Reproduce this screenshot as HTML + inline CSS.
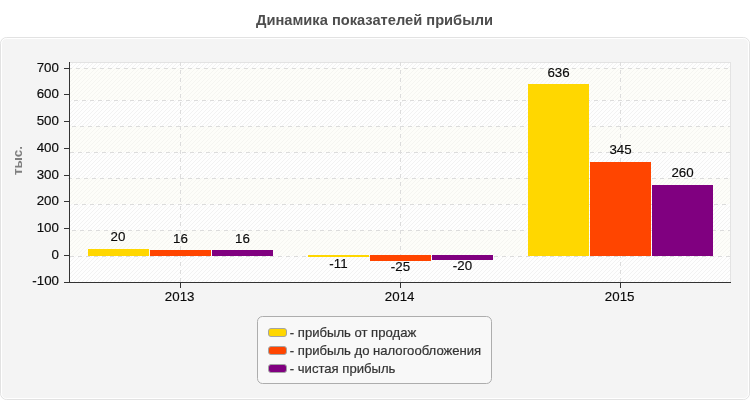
<!DOCTYPE html>
<html><head><meta charset="utf-8">
<style>
html,body{margin:0;padding:0;background:#fff;}
body{width:750px;height:400px;overflow:hidden;font-family:"Liberation Sans",sans-serif;}
svg{display:block;will-change:transform;}
text{font-family:"Liberation Sans",sans-serif;}
</style></head><body>
<svg width="750" height="400" viewBox="0 0 750 400">
<defs>
<pattern id="hw" width="4" height="4" patternUnits="userSpaceOnUse" x="0" y="0">
<rect width="4" height="4" fill="#fefefe"/>
<path d="M3,0h1v1h-1zM2,1h1v1h-1zM1,2h1v1h-1zM0,3h1v1h-1z" fill="#f2f2f2" shape-rendering="crispEdges"/>
</pattern>
<pattern id="hc" width="4" height="4" patternUnits="userSpaceOnUse" x="0" y="0">
<rect width="4" height="4" fill="#fdfdf9"/>
<path d="M3,0h1v1h-1zM2,1h1v1h-1zM1,2h1v1h-1zM0,3h1v1h-1z" fill="#f5f5f1" shape-rendering="crispEdges"/>
</pattern>
</defs>
<text x="374.5" y="25.3" font-size="14.67" font-weight="bold" fill="#4d4d4d" text-anchor="middle">Динамика показателей прибыли</text>
<rect x="0.5" y="37.5" width="749" height="362" rx="6" ry="6" fill="#f4f4f4" stroke="#e2e2e2"/>
<rect x="1.5" y="38.5" width="747" height="360" rx="5" ry="5" fill="none" stroke="#ffffff"/>
<rect x="70" y="63" width="660" height="5" fill="url(#hw)" shape-rendering="crispEdges"/>
<rect x="70" y="68" width="660" height="32" fill="url(#hc)" shape-rendering="crispEdges"/>
<rect x="70" y="100" width="660" height="26" fill="url(#hw)" shape-rendering="crispEdges"/>
<rect x="70" y="126" width="660" height="26" fill="url(#hc)" shape-rendering="crispEdges"/>
<rect x="70" y="152" width="660" height="26" fill="url(#hw)" shape-rendering="crispEdges"/>
<rect x="70" y="178" width="660" height="26" fill="url(#hc)" shape-rendering="crispEdges"/>
<rect x="70" y="204" width="660" height="26" fill="url(#hw)" shape-rendering="crispEdges"/>
<rect x="70" y="230" width="660" height="26" fill="url(#hc)" shape-rendering="crispEdges"/>
<rect x="70" y="256" width="660" height="26" fill="url(#hw)" shape-rendering="crispEdges"/>
<rect x="70" y="62" width="661" height="1" fill="#e3e3e3" shape-rendering="crispEdges"/>
<rect x="730" y="62" width="1" height="220" fill="#e3e3e3" shape-rendering="crispEdges"/>
<line x1="68" y1="68.5" x2="730" y2="68.5" stroke="#dcdcdc" stroke-width="1" stroke-dasharray="4 4" shape-rendering="crispEdges"/>
<line x1="74" y1="100.5" x2="730" y2="100.5" stroke="#dcdcdc" stroke-width="1" stroke-dasharray="4 4" shape-rendering="crispEdges"/>
<line x1="72" y1="126.5" x2="730" y2="126.5" stroke="#dcdcdc" stroke-width="1" stroke-dasharray="4 4" shape-rendering="crispEdges"/>
<line x1="70" y1="152.5" x2="730" y2="152.5" stroke="#dcdcdc" stroke-width="1" stroke-dasharray="4 4" shape-rendering="crispEdges"/>
<line x1="68" y1="178.5" x2="730" y2="178.5" stroke="#dcdcdc" stroke-width="1" stroke-dasharray="4 4" shape-rendering="crispEdges"/>
<line x1="74" y1="204.5" x2="730" y2="204.5" stroke="#dcdcdc" stroke-width="1" stroke-dasharray="4 4" shape-rendering="crispEdges"/>
<line x1="72" y1="230.5" x2="730" y2="230.5" stroke="#dcdcdc" stroke-width="1" stroke-dasharray="4 4" shape-rendering="crispEdges"/>
<line x1="70" y1="256.5" x2="730" y2="256.5" stroke="#dcdcdc" stroke-width="1" stroke-dasharray="4 4" shape-rendering="crispEdges"/>
<line x1="180.5" y1="62" x2="180.5" y2="282" stroke="#dcdcdc" stroke-width="1" stroke-dasharray="4 4" shape-rendering="crispEdges"/>
<line x1="400.5" y1="62" x2="400.5" y2="282" stroke="#dcdcdc" stroke-width="1" stroke-dasharray="4 4" shape-rendering="crispEdges"/>
<line x1="620.5" y1="62" x2="620.5" y2="282" stroke="#dcdcdc" stroke-width="1" stroke-dasharray="4 4" shape-rendering="crispEdges"/>
<rect x="88" y="249" width="61" height="7" fill="#ffd700" shape-rendering="crispEdges"/>
<rect x="150" y="250" width="61" height="6" fill="#ff4500" shape-rendering="crispEdges"/>
<rect x="212" y="250" width="61" height="6" fill="#800080" shape-rendering="crispEdges"/>
<rect x="308" y="255" width="61" height="2" fill="#ffd700" shape-rendering="crispEdges"/>
<rect x="370" y="255" width="61" height="6" fill="#ff4500" shape-rendering="crispEdges"/>
<rect x="432" y="255" width="61" height="5" fill="#800080" shape-rendering="crispEdges"/>
<rect x="528" y="84" width="61" height="172" fill="#ffd700" shape-rendering="crispEdges"/>
<rect x="590" y="162" width="61" height="94" fill="#ff4500" shape-rendering="crispEdges"/>
<rect x="652" y="185" width="61" height="71" fill="#800080" shape-rendering="crispEdges"/>
<text x="118" y="241.2" font-size="13.33" fill="#0a0a0a" stroke="#0a0a0a" stroke-width="0.15" text-anchor="middle">20</text>
<text x="180.5" y="242.5" font-size="13.33" fill="#0a0a0a" stroke="#0a0a0a" stroke-width="0.15" text-anchor="middle">16</text>
<text x="242.5" y="242.5" font-size="13.33" fill="#0a0a0a" stroke="#0a0a0a" stroke-width="0.15" text-anchor="middle">16</text>
<text x="338.5" y="267.8" font-size="13.33" fill="#0a0a0a" stroke="#0a0a0a" stroke-width="0.15" text-anchor="middle">-11</text>
<text x="400.5" y="270.8" font-size="13.33" fill="#0a0a0a" stroke="#0a0a0a" stroke-width="0.15" text-anchor="middle">-25</text>
<text x="462.5" y="269.7" font-size="13.33" fill="#0a0a0a" stroke="#0a0a0a" stroke-width="0.15" text-anchor="middle">-20</text>
<text x="558.5" y="76.9" font-size="13.33" fill="#0a0a0a" stroke="#0a0a0a" stroke-width="0.15" text-anchor="middle">636</text>
<text x="620.5" y="153.6" font-size="13.33" fill="#0a0a0a" stroke="#0a0a0a" stroke-width="0.15" text-anchor="middle">345</text>
<text x="682.5" y="176.7" font-size="13.33" fill="#0a0a0a" stroke="#0a0a0a" stroke-width="0.15" text-anchor="middle">260</text>
<rect x="69" y="62" width="1" height="221" fill="#333" shape-rendering="crispEdges"/>
<rect x="64" y="282" width="667" height="1" fill="#333" shape-rendering="crispEdges"/>
<rect x="64" y="68" width="5" height="1" fill="#333" shape-rendering="crispEdges"/>
<text x="58.9" y="71.8" font-size="13.33" fill="#0a0a0a" stroke="#0a0a0a" stroke-width="0.15" text-anchor="end">700</text>
<rect x="64" y="94" width="5" height="1" fill="#333" shape-rendering="crispEdges"/>
<text x="58.9" y="97.8" font-size="13.33" fill="#0a0a0a" stroke="#0a0a0a" stroke-width="0.15" text-anchor="end">600</text>
<rect x="64" y="121" width="5" height="1" fill="#333" shape-rendering="crispEdges"/>
<text x="58.9" y="124.8" font-size="13.33" fill="#0a0a0a" stroke="#0a0a0a" stroke-width="0.15" text-anchor="end">500</text>
<rect x="64" y="148" width="5" height="1" fill="#333" shape-rendering="crispEdges"/>
<text x="58.9" y="151.8" font-size="13.33" fill="#0a0a0a" stroke="#0a0a0a" stroke-width="0.15" text-anchor="end">400</text>
<rect x="64" y="175" width="5" height="1" fill="#333" shape-rendering="crispEdges"/>
<text x="58.9" y="178.8" font-size="13.33" fill="#0a0a0a" stroke="#0a0a0a" stroke-width="0.15" text-anchor="end">300</text>
<rect x="64" y="201" width="5" height="1" fill="#333" shape-rendering="crispEdges"/>
<text x="58.9" y="204.8" font-size="13.33" fill="#0a0a0a" stroke="#0a0a0a" stroke-width="0.15" text-anchor="end">200</text>
<rect x="64" y="228" width="5" height="1" fill="#333" shape-rendering="crispEdges"/>
<text x="58.9" y="231.8" font-size="13.33" fill="#0a0a0a" stroke="#0a0a0a" stroke-width="0.15" text-anchor="end">100</text>
<rect x="64" y="255" width="5" height="1" fill="#333" shape-rendering="crispEdges"/>
<text x="58.9" y="258.8" font-size="13.33" fill="#0a0a0a" stroke="#0a0a0a" stroke-width="0.15" text-anchor="end">0</text>
<text x="59" y="285.4" font-size="13.33" fill="#0a0a0a" stroke="#0a0a0a" stroke-width="0.15" text-anchor="end">-100</text>
<rect x="180" y="283" width="1" height="5" fill="#333" shape-rendering="crispEdges"/>
<text x="179.7" y="300.5" font-size="13.33" fill="#0a0a0a" stroke="#0a0a0a" stroke-width="0.15" text-anchor="middle">2013</text>
<rect x="400" y="283" width="1" height="5" fill="#333" shape-rendering="crispEdges"/>
<text x="399.7" y="300.5" font-size="13.33" fill="#0a0a0a" stroke="#0a0a0a" stroke-width="0.15" text-anchor="middle">2014</text>
<rect x="620" y="283" width="1" height="5" fill="#333" shape-rendering="crispEdges"/>
<text x="619.7" y="300.5" font-size="13.33" fill="#0a0a0a" stroke="#0a0a0a" stroke-width="0.15" text-anchor="middle">2015</text>
<text transform="translate(22.2,160.6) rotate(-90)" font-size="13.33" font-weight="bold" fill="#7f7f7f" text-anchor="middle">тыс.</text>
<rect x="257.5" y="316.5" width="234" height="67" rx="5" ry="5" fill="#f8f8f8" stroke="#adadad"/>
<rect x="268.5" y="328.5" width="18" height="8" rx="2.5" ry="2.5" fill="#ffd700" stroke="#a4a4a4"/>
<text x="289.8" y="337" font-size="13.1" fill="#333" stroke="#333" stroke-width="0.2">- прибыль от продаж</text>
<rect x="268.5" y="346.5" width="18" height="8" rx="2.5" ry="2.5" fill="#ff4500" stroke="#a4a4a4"/>
<text x="289.8" y="355" font-size="13.1" fill="#333" stroke="#333" stroke-width="0.2">- прибыль до налогообложения</text>
<rect x="268.5" y="364.5" width="18" height="8" rx="2.5" ry="2.5" fill="#800080" stroke="#a4a4a4"/>
<text x="289.8" y="373" font-size="13.1" fill="#333" stroke="#333" stroke-width="0.2">- чистая прибыль</text>
</svg></body></html>
